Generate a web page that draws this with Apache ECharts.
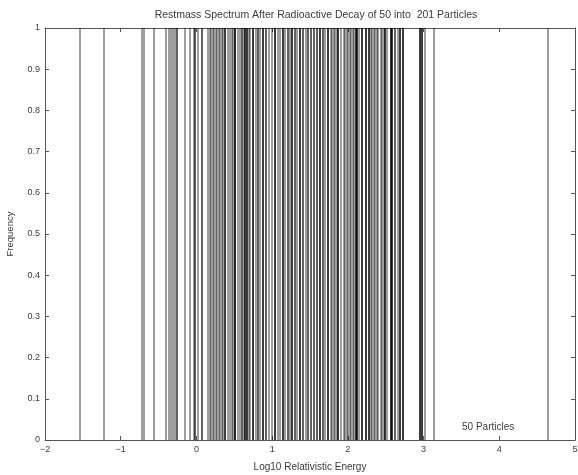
<!DOCTYPE html>
<html><head><meta charset="utf-8">
<script src="https://cdn.jsdelivr.net/npm/echarts@6/dist/echarts.min.js"></script>
<style>html,body{margin:0;padding:0;background:#fff}#c{width:578px;height:475px}</style>
</head><body><div id="c"></div>
<script>
const titleText = 'Restmass Spectrum After Radioactive Decay of 50 into  201 Particles';
const xName = 'Log10 Relativistic Energy';
const yName = 'Frequency';
const noteText = '50 Particles';
const xTicks = [-2, -1, 0, 1, 2, 3, 4, 5];
const yTicks = [0, 0.1, 0.2, 0.3, 0.4, 0.5, 0.6, 0.7, 0.8, 0.9, 1];
// log10 energies of particles (one vertical line each, duplicates stack darker)
const energies = [
  -1.54, -1.22, -0.72, -0.69, -0.56,
  -0.40, -0.37, -0.34, -0.31, -0.28, -0.26, -0.26,
  -0.15, -0.085, -0.045, -0.02, -0.02, 0.02, 0.07, 0.07,
  0.15, 0.17, 0.19, 0.21, 0.23, 0.25, 0.27, 0.29, 0.31, 0.33, 0.35,
  0.38, 0.38, 0.38, 0.42, 0.44, 0.46, 0.48, 0.51, 0.51, 0.51, 0.51, 0.55, 0.57,
  0.60, 0.60, 0.62, 0.64, 0.64, 0.64, 0.67, 0.67, 0.67, 0.69, 0.71,
  0.75, 0.75, 0.75, 0.78, 0.81, 0.81, 0.84, 0.87, 0.87, 0.87, 0.91, 0.91,
  0.95, 0.99, 1.04, 1.04, 1.04, 1.07, 1.10, 1.14, 1.14, 1.14, 1.17, 1.20, 1.20,
  1.23, 1.26, 1.26, 1.26, 1.30, 1.30, 1.33,
  1.37, 1.37, 1.37, 1.41, 1.41, 1.44, 1.47, 1.47, 1.51, 1.51, 1.55, 1.55,
  1.59, 1.59, 1.63, 1.63, 1.63, 1.67, 1.67, 1.70, 1.74, 1.74, 1.74,
  1.77, 1.79, 1.81, 1.83, 1.85, 1.87, 1.87, 1.87, 1.90,
  1.94, 1.96, 1.98, 2.00, 2.02, 2.04, 2.06, 2.08, 2.10, 2.10, 2.10,
  2.12, 2.12, 2.12, 2.15,
  2.19, 2.19, 2.19, 2.23, 2.23, 2.23, 2.27, 2.27, 2.27,
  2.30, 2.32, 2.34, 2.36, 2.38, 2.40, 2.43, 2.45, 2.47, 2.49, 2.49, 2.49, 2.52,
  2.56, 2.56, 2.56, 2.58, 2.58, 2.58,
  2.62, 2.62, 2.66, 2.69, 2.69, 2.69, 2.73, 2.73, 2.73,
  2.95, 2.95, 2.95, 2.98, 2.98, 2.98, 3.02, 3.125, 4.644
];

const chart = echarts.init(document.getElementById('c'), null, {renderer: 'canvas'});
const font = 'Liberation Sans';
const txt = '#3a3a3a';
const lineSt = {color: '#555', width: 1};
const tickSt = {show: true, inside: true, length: 4, lineStyle: {color: '#555'}};
const axisCommon = {
  type: 'value', min: -2, max: 5, interval: 1,
  axisLine: {show: true, onZero: false, lineStyle: lineSt},
  axisTick: tickSt,
  splitLine: {show: false}
};
chart.setOption({
  animation: false,
  backgroundColor: '#fff',
  title: {
    text: titleText, left: 311, top: 5, textAlign: 'center',
    textStyle: {fontSize: 10.5, fontWeight: 'normal', color: txt, fontFamily: font}
  },
  grid: {left: 45, right: 3, top: 28, bottom: 35, containLabel: false, outerBoundsMode: 'none'},
  xAxis: [
    Object.assign({}, axisCommon, {
      position: 'bottom', name: xName, nameLocation: 'middle', nameGap: 22,
      nameTextStyle: {fontSize: 10, color: txt, fontFamily: font},
      axisLabel: {fontSize: 9, color: txt, margin: 5, fontFamily: font,
        formatter: v => xTicks.includes(v) ? String(v).replace('-', '\u2212') : ''}
    }),
    Object.assign({}, axisCommon, {position: 'top', axisLabel: {show: false}})
  ],
  yAxis: [
    {
      type: 'value', min: 0, max: 1, interval: 0.1, position: 'left',
      name: yName, nameLocation: 'middle', nameGap: 30, nameRotate: 90,
      nameTextStyle: {fontSize: 9.5, color: txt, fontFamily: font},
      axisLine: {show: true, onZero: false, lineStyle: lineSt},
      axisTick: tickSt,
      splitLine: {show: false},
      axisLabel: {fontSize: 9, color: txt, margin: 5, fontFamily: font,
        formatter: v => { const t = yTicks.find(k => Math.abs(k - v) < 1e-9); return t === undefined ? '' : String(t); }}
    },
    {
      type: 'value', min: 0, max: 1, interval: 0.1, position: 'right',
      axisLine: {show: true, onZero: false, lineStyle: lineSt},
      axisTick: tickSt,
      splitLine: {show: false}, axisLabel: {show: false}
    }
  ],
  graphic: [{
    type: 'text', left: 462, top: 422,
    style: {text: noteText, fontSize: 10, fill: txt, fontFamily: font}
  }],
  series: [{
    type: 'line', data: [], silent: true,
    markLine: {
      silent: true, symbol: ['none', 'none'],
      label: {show: false},
      lineStyle: {color: 'rgba(0,0,0,0.38)', width: 2, type: 'solid'},
      emphasis: {disabled: true},
      data: energies.map(e => ({xAxis: e}))
    }
  }]
});
</script></body></html>
